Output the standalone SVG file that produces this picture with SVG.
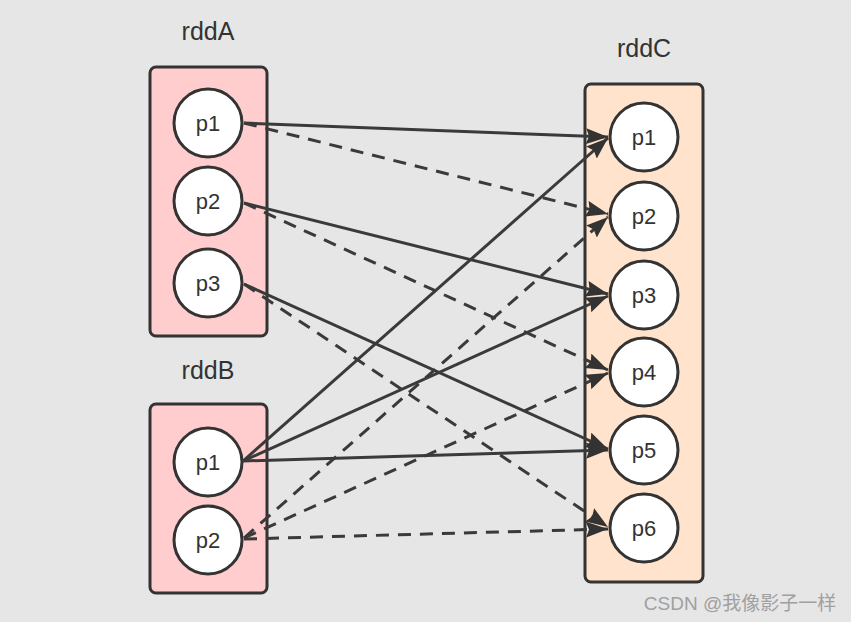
<svg xmlns="http://www.w3.org/2000/svg" width="851" height="622" viewBox="0 0 851 622">
<style>
.box{stroke:#333;stroke-width:3}
.a{fill:#ffcdce}
.c{fill:#ffe3cc}
.node circle{fill:#fff;stroke:#333;stroke-width:3}
.t{font-family:"Liberation Sans",Arial,sans-serif;fill:#333;text-anchor:middle}
.lbl{font-size:25px}
.nt{font-size:22px}
.e{fill:none;stroke:#3a3a3a;stroke-width:3;marker-end:url(#ah)}
.d{stroke-dasharray:13 9}
</style>
<defs>
<marker id="ah" markerUnits="userSpaceOnUse" markerWidth="24" markerHeight="18" refX="22" refY="8" orient="auto">
<path d="M0,0 L22,8 L0,16 L3,8 z" fill="#333"/>
</marker>
</defs>
<rect width="851" height="622" fill="#e6e6e6"/>
<g id="rddA">
<rect class="box a" x="150" y="67" width="117" height="269" rx="6"/>
<text class="t lbl" x="208" y="40">rddA</text>
</g>
<g id="rddB">
<rect class="box a" x="150" y="404" width="117" height="189" rx="6"/>
<text class="t lbl" x="208" y="379">rddB</text>
</g>
<g id="rddC">
<rect class="box c" x="585" y="84" width="118" height="498" rx="6"/>
<text class="t lbl" x="644" y="57">rddC</text>
</g>
<g id="A1" class="node"><circle cx="208" cy="123" r="34"/><text class="t nt" x="208" y="131">p1</text></g>
<g id="A2" class="node"><circle cx="208" cy="201" r="34"/><text class="t nt" x="208" y="209">p2</text></g>
<g id="A3" class="node"><circle cx="208" cy="283" r="34"/><text class="t nt" x="208" y="291">p3</text></g>
<g id="B1" class="node"><circle cx="208" cy="462" r="34"/><text class="t nt" x="208" y="470">p1</text></g>
<g id="B2" class="node"><circle cx="208" cy="540" r="34"/><text class="t nt" x="208" y="548">p2</text></g>
<g id="C1" class="node"><circle cx="644" cy="137" r="34"/><text class="t nt" x="644" y="145">p1</text></g>
<g id="C2" class="node"><circle cx="644" cy="216" r="34"/><text class="t nt" x="644" y="224">p2</text></g>
<g id="C3" class="node"><circle cx="644" cy="295" r="34"/><text class="t nt" x="644" y="303">p3</text></g>
<g id="C4" class="node"><circle cx="644" cy="372" r="34"/><text class="t nt" x="644" y="380">p4</text></g>
<g id="C5" class="node"><circle cx="644" cy="450" r="34"/><text class="t nt" x="644" y="458">p5</text></g>
<g id="C6" class="node"><circle cx="644" cy="528" r="34"/><text class="t nt" x="644" y="536">p6</text></g>
<g id="connectors">
<line class="e" x1="244" y1="123" x2="608" y2="137"/>
<line class="e d" x1="244" y1="123" x2="608" y2="214"/>
<line class="e" x1="244" y1="203" x2="608" y2="294"/>
<line class="e d" x1="244" y1="203" x2="608" y2="370"/>
<line class="e" x1="244" y1="284" x2="608" y2="449"/>
<line class="e d" x1="244" y1="284" x2="608" y2="527"/>
<line class="e" x1="243" y1="461" x2="608" y2="138"/>
<line class="e" x1="243" y1="461" x2="608" y2="296"/>
<line class="e" x1="243" y1="461" x2="608" y2="450"/>
<line class="e d" x1="244" y1="538" x2="608" y2="217"/>
<line class="e d" x1="244" y1="538" x2="608" y2="373"/>
<line class="e d" x1="244" y1="539" x2="608" y2="529"/>
</g>
<text x="740" y="610" font-family="'Liberation Sans','Noto Sans CJK SC',sans-serif" font-size="19" fill="#a0a0a0" text-anchor="middle">CSDN @我像影子一样</text>
</svg>
